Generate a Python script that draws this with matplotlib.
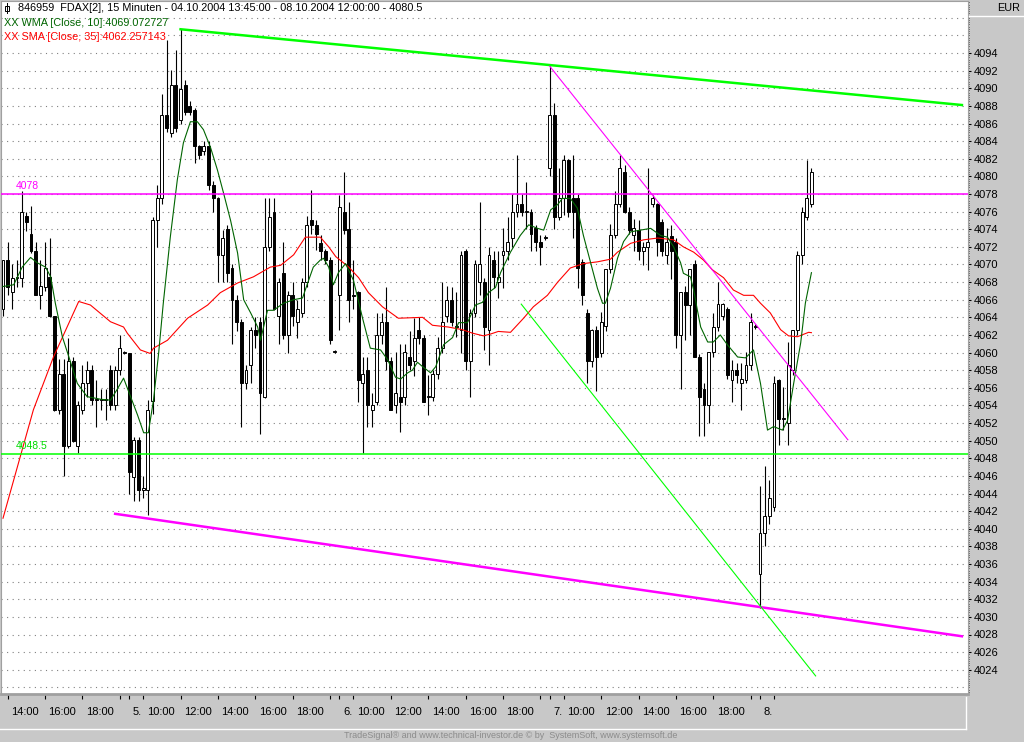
import matplotlib
matplotlib.use("Agg")
import matplotlib.pyplot as plt
import matplotlib.transforms as mtransforms
from matplotlib.lines import Line2D
from matplotlib.patches import Rectangle
import numpy as np

plt.rcParams['font.family'] = ['Liberation Sans', 'DejaVu Sans']

# FDAX 15 min bars, 04.10.2004 13:45 .. 08.10.2004 12:00
opens = [4065.0, 4070.5, 4066.9, 4068.5, 4068.5, 4075.5, 4073.5, 4071.5, 4066.5, 4067.5,
         4068.6, 4064.1, 4053.5, 4057.6, 4049.4, 4059.1, 4049.4, 4053.5, 4056.5, 4058.0,
         4054.6, 4054.6, 4054.6, 4058.0, 4054.0, 4058.0, 4060.0, 4060.0, 4045.9, 4050.1,
         4044.4, 4044.4, 4054.5, 4075.0, 4077.5, 4087.0, 4084.9, 4090.4, 4086.4, 4090.4,
         4088.0, 4087.5, 4083.4, 4082.9, 4083.4, 4079.0, 4077.5, 4071.1, 4074.0, 4069.6,
         4066.0, 4063.5, 4056.5, 4058.6, 4062.6, 4063.5, 4055.0, 4072.0, 4076.0, 4064.1,
         4069.0, 4062.0, 4066.5, 4063.5, 4064.5, 4068.0, 4075.0, 4074.5, 4072.4, 4071.5,
         4070.5, 4060.1, 4066.5, 4076.0, 4074.0, 4066.5, 4066.9, 4056.5, 4058.0, 4053.5,
         4054.4, 4062.0, 4063.5, 4059.0, 4054.0, 4055.0, 4055.0, 4059.5, 4059.0, 4062.6,
         4061.6, 4055.0, 4055.0, 4057.6, 4060.5, 4064.1, 4066.0, 4063.0, 4062.6, 4071.5,
         4059.0, 4064.5, 4068.0, 4068.0, 4062.6, 4070.5, 4068.0, 4071.1, 4071.5, 4073.0,
         4076.0, 4076.9, 4076.0, 4076.0, 4074.1, 4072.6, 4073.0, 4080.9, 4087.0, 4075.4,
         4077.5, 4081.9, 4077.5, 4077.5, 4070.3, 4064.5, 4059.0, 4062.6, 4059.9, 4063.0,
         4069.5, 4073.3, 4076.9, 4080.5, 4076.0, 4073.3, 4073.9, 4071.5, 4072.0, 4076.9,
         4076.9, 4074.8, 4071.1, 4073.2, 4072.6, 4062.0, 4066.9, 4065.4, 4070.0, 4059.5,
         4055.9, 4054.0, 4060.1, 4062.9, 4064.1, 4065.0, 4056.9, 4058.0, 4056.5, 4056.9,
         4058.6, 4063.0, 4034.9, 4039.5, 4041.4, 4042.5, 4056.9, 4052.5, 4052.0, 4058.0,
         4062.6, 4071.1, 4075.4, 4076.9]
highs = [4070.5, 4072.6, 4070.0, 4070.5, 4078.3, 4076.0, 4076.6, 4072.6, 4070.5, 4072.6,
         4073.0, 4064.2, 4059.3, 4059.3, 4061.6, 4059.5, 4054.5, 4058.6, 4059.0, 4058.6,
         4056.9, 4055.9, 4055.9, 4058.6, 4058.5, 4062.0, 4060.2, 4060.0, 4050.4, 4050.4,
         4046.0, 4054.6, 4075.4, 4079.0, 4089.4, 4095.5, 4092.1, 4094.3, 4096.7, 4090.9,
         4088.6, 4087.8, 4083.6, 4084.0, 4084.0, 4079.5, 4077.7, 4073.9, 4074.5, 4070.0,
         4066.5, 4063.8, 4058.6, 4062.9, 4064.0, 4064.0, 4077.5, 4077.5, 4077.5, 4068.5,
         4072.6, 4067.0, 4068.0, 4066.0, 4068.5, 4075.5, 4078.5, 4075.0, 4073.3, 4071.8,
         4070.8, 4060.3, 4077.9, 4080.5, 4077.1, 4070.5, 4067.0, 4059.5, 4059.5, 4055.4,
         4064.5, 4064.5, 4067.5, 4059.5, 4060.1, 4061.0, 4061.0, 4062.4, 4063.9, 4064.0,
         4062.0, 4057.5, 4058.0, 4061.8, 4068.0, 4067.6, 4067.5, 4066.9, 4071.5, 4071.8,
         4065.0, 4070.5, 4077.1, 4068.5, 4072.0, 4071.5, 4071.5, 4074.1, 4075.4, 4078.0,
         4082.4, 4078.0, 4079.4, 4076.3, 4074.5, 4073.3, 4073.3, 4092.5, 4088.3, 4080.9,
         4082.4, 4082.0, 4082.4, 4078.0, 4070.6, 4065.0, 4062.7, 4063.0, 4064.6, 4069.5,
         4074.6, 4078.3, 4082.4, 4081.3, 4076.5, 4075.2, 4075.0, 4072.6, 4080.9, 4077.9,
         4077.0, 4075.2, 4074.1, 4074.5, 4073.0, 4066.9, 4067.6, 4069.5, 4070.5, 4059.8,
         4056.5, 4060.1, 4064.5, 4068.0, 4065.6, 4065.2, 4059.2, 4058.8, 4058.8, 4060.1,
         4064.5, 4063.2, 4044.8, 4047.1, 4045.5, 4057.3, 4057.0, 4056.1, 4061.2, 4062.6,
         4071.5, 4076.5, 4081.9, 4080.9]
lows = [4064.1, 4066.5, 4065.0, 4067.5, 4067.5, 4073.8, 4071.3, 4066.5, 4065.0, 4067.0,
        4064.0, 4053.4, 4053.0, 4046.0, 4049.2, 4049.8, 4048.6, 4053.0, 4055.0, 4054.0,
        4051.6, 4053.5, 4052.3, 4053.5, 4053.5, 4057.5, 4059.8, 4044.0, 4043.1, 4043.1,
        4043.5, 4041.6, 4053.0, 4072.0, 4076.9, 4085.0, 4084.5, 4085.0, 4086.0, 4087.0,
        4087.0, 4081.5, 4082.0, 4082.4, 4078.5, 4076.0, 4068.0, 4068.0, 4068.0, 4061.0,
        4062.5, 4051.6, 4055.9, 4056.5, 4060.5, 4050.8, 4054.8, 4071.5, 4064.8, 4061.0,
        4061.5, 4060.0, 4063.0, 4061.6, 4064.0, 4067.5, 4073.5, 4071.6, 4070.5, 4070.0,
        4061.0, 4059.9, 4062.6, 4073.5, 4063.5, 4065.0, 4054.4, 4048.6, 4051.6, 4051.6,
        4054.0, 4061.0, 4058.0, 4053.5, 4053.1, 4051.0, 4054.0, 4058.0, 4057.3, 4061.0,
        4054.4, 4052.9, 4054.5, 4057.0, 4060.0, 4063.5, 4063.0, 4061.8, 4060.0, 4058.0,
        4055.0, 4064.0, 4066.5, 4060.3, 4058.6, 4067.3, 4066.2, 4067.3, 4070.5, 4072.0,
        4075.4, 4075.5, 4074.0, 4071.5, 4071.5, 4069.9, 4072.8, 4080.0, 4074.0, 4075.0,
        4075.6, 4075.4, 4073.0, 4067.3, 4065.4, 4056.5, 4058.4, 4055.6, 4059.5, 4062.4,
        4069.0, 4073.0, 4076.5, 4075.8, 4073.5, 4071.5, 4070.5, 4069.9, 4069.4, 4076.5,
        4071.0, 4071.0, 4070.0, 4068.4, 4060.5, 4055.9, 4061.4, 4062.0, 4059.5, 4050.5,
        4050.5, 4052.0, 4059.5, 4062.4, 4063.7, 4057.0, 4054.4, 4056.5, 4053.5, 4056.5,
        4058.0, 4062.7, 4031.0, 4038.0, 4040.5, 4042.0, 4049.5, 4051.2, 4049.5, 4057.5,
        4062.0, 4070.0, 4075.0, 4076.5]
closes = [4070.5, 4067.5, 4068.5, 4068.6, 4076.0, 4074.8, 4071.5, 4066.5, 4067.6, 4069.6,
          4064.1, 4053.5, 4057.6, 4049.4, 4059.1, 4050.0, 4054.0, 4056.5, 4058.0, 4054.6,
          4054.6, 4054.7, 4054.6, 4054.0, 4058.0, 4060.5, 4060.0, 4046.5, 4050.1, 4044.4,
          4044.6, 4053.5, 4075.0, 4077.5, 4087.0, 4085.5, 4090.4, 4085.5, 4089.9, 4087.3,
          4087.3, 4083.4, 4082.4, 4083.4, 4079.0, 4077.5, 4071.1, 4073.0, 4069.0, 4066.0,
          4063.5, 4056.5, 4058.0, 4062.6, 4062.0, 4055.4, 4072.0, 4075.4, 4065.0, 4068.0,
          4062.0, 4066.5, 4064.1, 4065.0, 4068.0, 4074.5, 4074.5, 4073.5, 4071.5, 4070.5,
          4061.4, 4060.1, 4076.5, 4073.9, 4066.0, 4066.4, 4056.9, 4057.6, 4054.0, 4054.0,
          4062.0, 4063.5, 4059.0, 4053.5, 4055.4, 4054.4, 4060.1, 4058.6, 4061.6, 4061.6,
          4054.4, 4055.0, 4057.6, 4060.5, 4063.5, 4066.0, 4063.5, 4062.9, 4071.1, 4059.0,
          4064.5, 4070.1, 4070.1, 4062.9, 4071.1, 4068.6, 4068.6, 4071.5, 4072.5, 4076.0,
          4076.9, 4076.0, 4076.0, 4073.5, 4072.6, 4072.0, 4073.0, 4087.0, 4075.4, 4077.5,
          4081.9, 4076.0, 4076.0, 4069.6, 4066.5, 4059.0, 4062.6, 4059.5, 4063.5, 4069.5,
          4073.3, 4076.9, 4080.9, 4076.0, 4073.9, 4074.1, 4071.5, 4072.0, 4072.6, 4077.5,
          4072.6, 4071.5, 4072.6, 4071.5, 4062.0, 4066.9, 4065.4, 4069.5, 4059.5, 4055.0,
          4054.0, 4060.1, 4062.9, 4065.5, 4065.5, 4057.5, 4058.0, 4057.5, 4057.0, 4058.6,
          4063.5, 4062.9, 4039.5, 4041.4, 4043.5, 4056.5, 4052.5, 4052.6, 4058.6, 4062.6,
          4071.1, 4076.0, 4077.5, 4080.5]

# WMA [Close, 10], sampled along the drawn curve (bar index, value)
wma_x = [0.0, 2.3, 4.1, 5.9, 7.3, 9.1, 10.2, 11.2, 12.7, 14.1, 15.9, 18.0, 20.9, 23.0, 24.4,
         25.8, 27.3, 28.8, 30.1, 31.1, 32.2, 33.3, 34.3, 35.8, 37.3, 38.6, 40.1, 41.6, 42.9,
         44.4, 45.9, 47.2, 48.7, 50.2, 51.5, 53.0, 54.5, 55.1, 56.6, 57.9, 60.0, 62.2, 64.1,
         65.2, 66.4, 67.9, 68.6, 69.7, 70.7, 71.8, 73.3, 75.0, 76.9, 78.6, 80.8, 82.3, 84.0,
         85.1, 86.6, 87.6, 88.7, 89.8, 91.5, 92.6, 94.3, 96.2, 97.5, 99.4, 101.1, 102.6, 103.9,
         105.4, 106.5, 108.6, 110.7, 112.5, 114.4, 115.7, 117.2, 118.7, 119.7, 121.4, 122.9,
         124.2, 125.7, 127.2, 128.3, 128.9, 130.0, 131.5, 132.8, 134.3, 136.4, 138.6, 140.7,
         142.2, 143.5, 145.0, 145.6, 147.1, 147.8, 148.6, 149.3, 150.8, 152.0, 153.5, 155.0,
         157.2, 158.9, 160.6, 162.1, 163.6, 164.9, 166.8, 167.9, 169.2, 170.7, 171.7, 173.0]
wma_y = [4067.5, 4067.7, 4069.7, 4070.8, 4070.2, 4069.7, 4068.6, 4065.6, 4061.8, 4059.5,
         4056.5, 4055.0, 4054.7, 4054.6, 4055.8, 4057.1, 4055.0, 4052.9, 4050.9, 4050.9,
         4054.6, 4059.9, 4065.6, 4073.1, 4079.6, 4083.8, 4086.2, 4086.2, 4085.3, 4083.3,
         4080.7, 4078.1, 4075.0, 4071.3, 4066.0, 4064.5, 4062.9, 4061.4, 4064.8, 4064.8,
         4065.6, 4066.0, 4066.2, 4067.9, 4069.7, 4070.5, 4070.7, 4069.7, 4067.7, 4069.1,
         4070.1, 4068.2, 4064.0, 4060.5, 4060.3, 4059.2, 4057.2, 4057.0, 4057.7, 4058.0,
         4058.9, 4058.4, 4057.7, 4058.4, 4060.9, 4061.7, 4063.4, 4063.4, 4065.4, 4065.7,
         4066.8, 4067.4, 4069.1, 4071.4, 4073.3, 4074.5, 4074.1, 4073.9, 4076.2, 4076.8,
         4077.5, 4077.5, 4076.4, 4073.3, 4070.3, 4067.3, 4065.6, 4065.6, 4067.3, 4070.7,
         4072.6, 4073.7, 4073.9, 4074.1, 4073.3, 4073.1, 4072.0, 4070.2, 4069.0, 4068.6,
         4067.1, 4064.8, 4062.9, 4061.2, 4061.2, 4062.0, 4060.9, 4059.5, 4059.4, 4060.3,
         4056.5, 4051.2, 4051.6, 4051.2, 4052.3, 4056.5, 4061.1, 4065.6, 4069.07]

# SMA [Close, 35], sampled along the drawn curve (bar index, value)
sma_x = [0.0, 6.5, 10.8, 16.2, 18.7, 23.0, 25.8, 26.6, 29.4, 31.5, 32.2, 35.2, 39.5, 43.8,
         46.5, 50.2, 53.6, 57.2, 59.4, 62.2, 64.7, 67.9, 69.7, 71.2, 74.0, 76.1, 78.2, 81.2,
         84.6, 89.8, 91.9, 95.3, 98.3, 100.5, 102.8, 104.3, 106.0, 108.6, 111.4, 113.5, 116.5,
         118.7, 121.4, 124.2, 127.2, 130.0, 131.5, 134.3, 137.1, 140.1, 143.5, 145.6, 147.8,
         149.9, 151.8, 154.2, 156.3, 158.5, 160.6, 162.1, 164.2, 166.4, 168.1, 170.0, 172.4,
         173.0]
sma_y = [4041.2, 4053.5, 4059.5, 4065.8, 4065.4, 4063.5, 4062.9, 4062.2, 4060.3, 4059.9,
         4060.5, 4061.4, 4063.9, 4065.4, 4066.8, 4067.9, 4068.6, 4069.7, 4069.9, 4071.1,
         4073.1, 4073.1, 4072.0, 4070.9, 4069.7, 4068.5, 4066.8, 4065.2, 4063.9, 4064.0,
         4063.1, 4062.9, 4062.6, 4062.2, 4061.9, 4062.1, 4062.4, 4062.3, 4063.9, 4065.2,
         4066.5, 4068.0, 4069.6, 4070.1, 4070.3, 4070.6, 4071.4, 4072.4, 4072.8, 4073.0,
         4072.8, 4072.0, 4071.4, 4070.5, 4069.4, 4068.5, 4067.1, 4066.5, 4066.5, 4065.6,
         4064.5, 4062.6, 4061.9, 4061.8, 4062.3, 4062.26]

# time axis (bar index of each tick and its label, empty = tick only)
tick_bars = [1, 9, 17, 25, 27, 30, 38, 46, 54, 62, 70, 72, 75, 83, 91, 99, 107, 115,
             117, 120, 128, 136, 144, 152, 160, 162, 165]
tick_labels = ["14:00", "16:00", "18:00", "", "5.", "10:00", "12:00", "14:00", "16:00",
               "18:00", "", "6.", "10:00", "12:00", "14:00", "16:00", "18:00", "",
               "7.", "10:00", "12:00", "14:00", "16:00", "18:00", "", "8.", ""]

# horizontal levels and drawn trend lines (bar index, price)
level_top = 4078.0
level_bottom = 4048.5
trend_green_x, trend_green_y = [38, 205.2], [4096.7, 4088.1]
trend_magenta_x, trend_magenta_y = [24.0, 205.2], [4041.7, 4027.8]
thin_magenta_x, thin_magenta_y = [117, 180.8], [4092.5, 4050.1]
thin_green_x, thin_green_y = [110.9, 173.9], [4065.5, 4023.3]

W, H = 1024, 742
fig = plt.figure(figsize=(W / 100, H / 100), dpi=100, facecolor='#c8c8c8')
ax = fig.add_axes([1 / W, (H - 694) / H, 967 / W, 693 / H])
ax.set_facecolor('white')

def fpos(x, y):
    return x / W, 1 - y / H

# grid
for lv in np.arange(4022, 4099, 2):
    ax.axhline(lv, color='#808080', lw=0.8, ls=(0, (1, 4)), zorder=1)

# candles
xs = np.arange(len(opens))
o = np.array(opens); c = np.array(closes)
hi = np.array(highs); lo = np.array(lows)
up = c >= o
bottom = np.minimum(o, c)
height = np.maximum(np.abs(c - o), 0.1)
ax.vlines(xs, lo, hi, color='black', lw=0.8, zorder=3)
ax.bar(xs[up], height[up], bottom=bottom[up], width=0.62, facecolor='white',
       edgecolor='black', linewidth=0.7, zorder=4)
ax.bar(xs[~up], height[~up], bottom=bottom[~up], width=0.62, facecolor='black',
       edgecolor='black', linewidth=0.7, zorder=4)

# indicators
ax.plot(sma_x, sma_y, color='#ff0000', lw=0.8, zorder=5)
ax.plot(wma_x, wma_y, color='#006400', lw=0.8, zorder=5)

# levels
ax.axhline(level_top, color='#ff00ff', lw=1.1, zorder=6)
ax.axhline(level_bottom, color='#00ff00', lw=1.1, zorder=6)
ax.text(2.8, level_top + 0.3, f"{level_top:g}", color='#ff00ff', fontsize=7.5,
        va='bottom', ha='left', zorder=7)
ax.text(2.8, level_bottom + 0.3, f"{level_bottom:g}", color='#00dd00', fontsize=7.5,
        va='bottom', ha='left', zorder=7)

# trend lines
ax.plot(trend_green_x, trend_green_y, color='#00ff00', lw=1.8, zorder=6)
ax.plot(trend_magenta_x, trend_magenta_y, color='#ff00ff', lw=1.8, zorder=6)
ax.plot(thin_magenta_x, thin_magenta_y, color='#ff00ff', lw=0.8, zorder=6)
ax.plot(thin_green_x, thin_green_y, color='#00ff00', lw=0.8, zorder=6)

ax.set_xlim((1 - 3) / 4.673, (968 - 3) / 4.673)
ax.set_ylim(4078 - (694 - 194) / 8.81, 4078 + (194 - 1) / 8.81)

# right price axis
ax.yaxis.tick_right()
ax.set_yticks(np.arange(4024, 4095, 2))
ax.set_yticklabels([str(v) for v in range(4024, 4095, 2)])
ax.set_yticks(np.arange(4021.5, 4100, 0.25), minor=True)
ax.tick_params(axis='y', which='major', direction='out', length=2.5, width=0.8,
               pad=2, labelsize=8)
ax.tick_params(axis='y', which='minor', direction='out', length=1.0, width=0.6)

# time axis
ax.set_xticks(tick_bars)
ax.set_xticklabels([])
ax.tick_params(axis='x', direction='out', length=3.5, width=0.8)
trans = mtransforms.blended_transform_factory(ax.transData, ax.transAxes)
for b, lab in zip(tick_bars, tick_labels):
    if lab:
        ax.annotate(lab, xy=(b, 0), xycoords=trans, xytext=(2.5, -13),
                    textcoords='offset points', ha='left', va='center', fontsize=8)

for side in ['left', 'top', 'right']:
    ax.spines[side].set_color('#a0a0a0')
    ax.spines[side].set_linewidth(0.8)
ax.spines['bottom'].set_color('#a0a0a0')
ax.spines['bottom'].set_linewidth(2)

# header, legend
fig.add_artist(Rectangle(fpos(4.5, 10.5), 4 / W, 5 / H, transform=fig.transFigure,
                         facecolor='white', edgecolor='black', lw=0.7))
fig.add_artist(Line2D([6.5 / W] * 2, [1 - 2.5 / H, 1 - 13 / H], color='black', lw=0.7))
title = f"846959  FDAX[2], 15 Minuten - 04.10.2004 13:45:00 - 08.10.2004 12:00:00 - {closes[-1]}"
fig.text(*fpos(18, 8), title, fontsize=7.8, va='center', ha='left')
fig.text(*fpos(4, 23), "XX WMA [Close, 10]:4069.072727", color='#006400',
         fontsize=7.8, va='center', ha='left')
fig.text(*fpos(4, 37.5), "XX SMA [Close, 35]:4062.257143", color='#ff0000',
         fontsize=7.8, va='center', ha='left')
fig.text(*fpos(1020, 8), "EUR", fontsize=7.8, va='center', ha='right')
fig.add_artist(Line2D([969 / W, 1], [1 - 16 / H] * 2, color='white', lw=1))

# panel borders and footer
fig.add_artist(Line2D([0, 966 / W], [1 - 729 / H] * 2, color='white', lw=1))
fig.add_artist(Line2D([966 / W] * 2, [1 - 697 / H, 1 - 729 / H], color='white', lw=1))
fig.text(*fpos(511, 736), "TradeSignal\u00ae and www.technical-investor.de \u00a9 by  SystemSoft, www.systemsoft.de",
         fontsize=6.5, color='#8c8c8c', va='center', ha='center')

fig.savefig("out.png", dpi=100, facecolor=fig.get_facecolor())
